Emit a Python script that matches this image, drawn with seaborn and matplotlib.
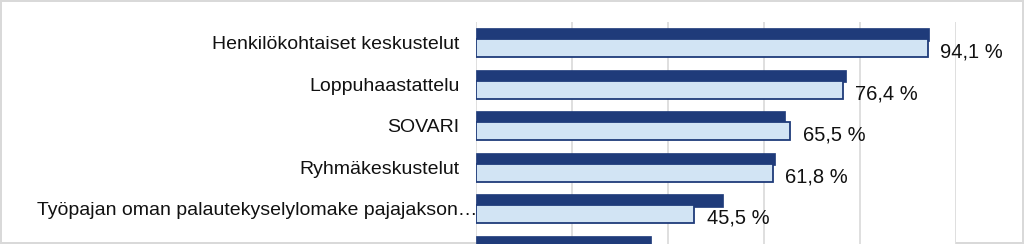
import numpy as np
import pandas as pd
import matplotlib
matplotlib.use("Agg")
import matplotlib.pyplot as plt
import seaborn as sns

categories = [
    "Henkilökohtaiset keskustelut",
    "Loppuhaastattelu",
    "SOVARI",
    "Ryhmäkeskustelut",
    "Työpajan oman palautekyselylomake pajajakson…",
    "Työkokeilun arviointi",
]
series_dark = [94.4, 77.1, 64.4, 62.3, 51.5, 36.5]
series_light = [94.1, 76.4, 65.5, 61.8, 45.5, 30.9]

sns.set_theme(style="white")
plt.rcParams["font.family"] = ["Liberation Sans", "DejaVu Sans"]

DARK = "#1F3B7A"
LIGHT = "#D2E4F4"
EDGE = "#1F3B7A"

fig = plt.figure(figsize=(10.24, 2.44), dpi=100)
fig.patch.set_edgecolor("#D9D9D9")
fig.patch.set_linewidth(1.5)
ax = fig.add_axes([476 / 1024, -27 / 244, 480 / 1024, 249 / 244])

idx = np.arange(len(categories))
df_dark = pd.DataFrame({"value": series_dark, "pos": idx - 0.20})
df_light = pd.DataFrame({"value": series_light, "pos": idx + 0.13})

sns.barplot(data=df_dark, x="value", y="pos", orient="h", native_scale=True,
            width=0.30, color=DARK, edgecolor=DARK, linewidth=0.5,
            saturation=1, ax=ax, zorder=2)
sns.barplot(data=df_light, x="value", y="pos", orient="h", native_scale=True,
            width=0.44, color=LIGHT, edgecolor=EDGE, linewidth=1.3,
            saturation=1, ax=ax, zorder=3)

labels = [f"{v:.1f} %".replace(".", ",") for v in series_light]
texts = ax.bar_label(ax.containers[-1], labels=labels, padding=9,
                     fontsize=14.5, color="#111111")
for t in texts:
    t.xyann = (9, -3)

ax.set_xlim(0, 100)
ax.set_ylim(len(categories) - 0.5, -0.5)
ax.set_yticks(idx)
ax.set_yticklabels(categories, fontsize=14, color="#111111")
ax.tick_params(axis="y", length=0, pad=12)
ax.get_yticklabels()[4].set_x(18 / 480)
ax.set_xticks([0, 20, 40, 60, 80, 100])
ax.set_xticklabels([])
ax.tick_params(axis="x", length=0)
ax.xaxis.grid(True, color="#D9D9D9", linewidth=1.2, zorder=0)
ax.set_axisbelow(True)
ax.set_xlabel("")
ax.set_ylabel("")
for s in ax.spines.values():
    s.set_visible(False)

fig.savefig("out.png", dpi=100)
